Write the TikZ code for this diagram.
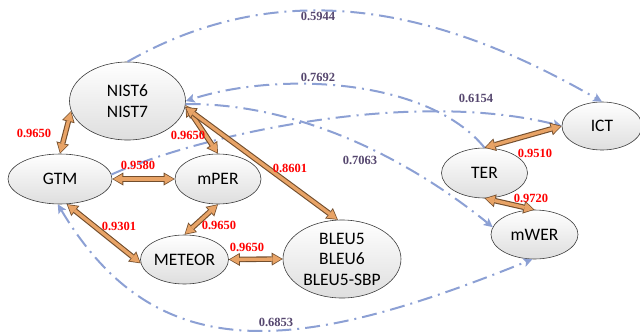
\documentclass[tikz,border=0pt]{standalone}
\usepackage{fontspec}
\setmainfont{Carlito}
\newfontfamily\numfont{Liberation Serif}
\usetikzlibrary{shapes.geometric,arrows.meta}

\definecolor{linkblue}{RGB}{140,160,212}
\definecolor{arrfill}{RGB}{232,163,102}
\definecolor{arredge}{RGB}{115,78,45}
\definecolor{redval}{RGB}{255,0,0}
\definecolor{blueval}{RGB}{85,70,110}
\definecolor{nodeedge}{RGB}{60,60,60}
\definecolor{nodegray}{RGB}{222,222,222}

\tikzset{
  metric/.style={ellipse, draw=nodeedge, line width=0.6pt,
    top color=white, bottom color=nodegray, inner sep=0pt,
    font=\fontsize{17.5}{20.5}\selectfont, align=center},
  strongval/.style={inner sep=0pt, text=redval,
    font=\numfont\bfseries\fontsize{12.5}{14}\selectfont},
  weakval/.style={inner sep=0pt, text=blueval,
    font=\numfont\bfseries\fontsize{12.5}{14}\selectfont},
  bluetip/.tip={Stealth[length=9pt,width=9pt,inset=2pt,line width=0pt]},
  link/.style={linkblue, line width=2pt,
    dash pattern=on 15pt off 6pt on 2pt off 6pt},
  outertip/.tip={Triangle[length=11pt,width=13pt,line width=0pt]},
  innertip/.tip={Triangle[length=8.8pt,width=10pt,line width=0pt]},
  outerarrow/.style={arredge, line width=5.5pt, outertip-outertip},
  innerarrow/.style={arrfill, line width=3.3pt, innertip-innertip,
    shorten <=1.3pt, shorten >=1.3pt},
}

% thick two-headed arrow with a dark rim
\newcommand\bothway[2]{%
  \draw[outerarrow] (#1) -- (#2);
  \draw[innerarrow] (#1) -- (#2);}

\begin{document}
\begin{tikzpicture}[x=1pt,y=-1pt]
\useasboundingbox (0,0) rectangle (640,335);

% metrics
\node[metric, minimum width=116pt, minimum height=78pt] (nist) at (127.5,101) {NIST6\\NIST7};
\node[metric, minimum width=104pt, minimum height=50pt] (gtm) at (60,179) {GTM};
\node[metric, minimum width=86pt, minimum height=50pt] (mper) at (218,179) {mPER};
\node[metric, minimum width=88pt, minimum height=49pt] (meteor) at (184.5,259.5) {METEOR};
\node[metric, minimum width=118pt, minimum height=78pt, inner ysep=-6pt] (bleu) at (342,259) {BLEU5\\BLEU6\\BLEU5-SBP};
\node[metric, minimum width=80pt, minimum height=48pt] (ict) at (602,126) {ICT};
\node[metric, minimum width=86pt, minimum height=50pt] (ter) at (484.5,173) {TER};
\node[metric, minimum width=87pt, minimum height=49pt] (mwer) at (534.5,234.5) {mWER};

% weak correlations
\draw[link, -bluetip] (nist.north) .. controls (285,-28) and (443,10) .. (ict.north);
\draw[link, -bluetip] (ter.north) .. controls (430,80) and (283,70) .. (nist.east);
\draw[link, -bluetip] (gtm.5) .. controls (200,135) and (410,88) .. (ict.west);
\draw[link, -bluetip] (nist.-3) .. controls (300,103) and (410,160) .. (mwer.170);
\draw[link, bluetip-bluetip] (gtm.-95) .. controls (157,370) and (298,354) .. (mwer.-95);

% strong correlations
\bothway{gtm.north}{nist.190}
\bothway{nist.-4}{mper.north}
\bothway{nist.-6}{bleu.96}
\bothway{gtm.east}{mper.west}
\bothway{gtm.-75}{meteor.185}
\bothway{mper.south}{meteor.north}
\bothway{meteor.east}{bleu.west}
\bothway{ter.north}{ict.west}
\bothway{ter.south}{mwer.north}

% values
\node[strongval] (v1) at (34,133) {0.9650};
\node[strongval] (v2) at (188,135) {0.9650};
\node[strongval] (v3) at (290,168) {0.8601};
\node[strongval] (v4) at (138,165) {0.9580};
\node[strongval] (v5) at (119,226) {0.9301};
\node[strongval] (v6) at (219,225) {0.9650};
\node[strongval] (v7) at (247,247) {0.9650};
\node[strongval] (v8) at (535,153) {0.9510};
\node[strongval] (v9) at (531,198) {0.9720};
\node[weakval] (w1) at (318,16) {0.5944};
\node[weakval] (w2) at (318,77) {0.7692};
\node[weakval] (w3) at (476,98) {0.6154};
\node[weakval] (w4) at (360,160) {0.7063};
\node[weakval] (w5) at (276,322) {0.6853};
\end{tikzpicture}
\end{document}
